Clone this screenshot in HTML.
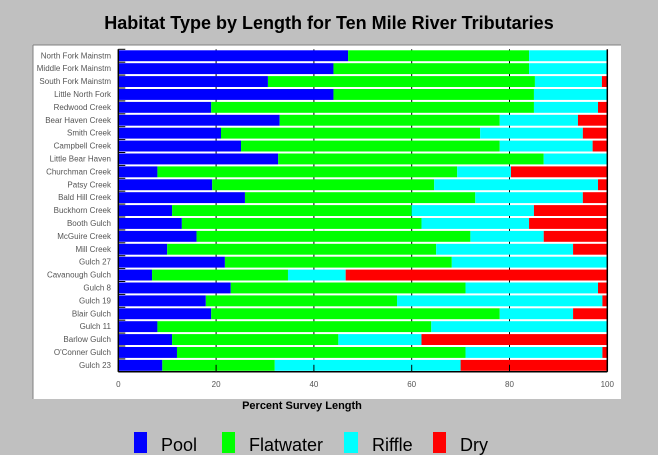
<!DOCTYPE html>
<html><head><meta charset="utf-8"><style>
body{margin:0;background:#c0c0c0;}
svg{display:block;font-family:"Liberation Sans",Arial,sans-serif;}
</style></head><body>
<svg width="658" height="455" viewBox="0 0 658 455">
<rect x="0" y="0" width="658" height="455" fill="#c0c0c0"/>
<text x="329" y="29" text-anchor="middle" font-size="18" font-weight="bold" fill="#000">Habitat Type by Length for Ten Mile River Tributaries</text>
<rect x="33" y="45" width="588" height="354" fill="#fff"/>
<line x1="33" y1="45" x2="621" y2="45" stroke="#808080"/>
<line x1="33" y1="45" x2="33" y2="399" stroke="#808080"/>
<g id="grid"></g>
<g id="bars"></g>
<g id="axes"></g>
<text x="302" y="409" text-anchor="middle" font-size="11" font-weight="bold" fill="#000">Percent Survey Length</text>
<g>
<rect x="134" y="432" width="13" height="21" fill="#0000ff"/>
<text x="161" y="451" font-size="18" fill="#000">Pool</text>
<rect x="222" y="432" width="13" height="21" fill="#00ff00"/>
<text x="249" y="451" font-size="18" fill="#000">Flatwater</text>
<rect x="344" y="432" width="14" height="21" fill="#00ffff"/>
<text x="372" y="451" font-size="18" fill="#000">Riffle</text>
<rect x="433" y="432" width="13" height="21" fill="#ff0000"/>
<text x="460" y="451" font-size="18" fill="#000">Dry</text>
</g>
</svg>
<script>
const categories=["North Fork Mainstm","Middle Fork Mainstm","South Fork Mainstm","Little North Fork","Redwood Creek","Bear Haven Creek","Smith Creek","Campbell Creek","Little Bear Haven","Churchman Creek","Patsy Creek","Bald Hill Creek","Buckhorn Creek","Booth Gulch","McGuire Creek","Mill Creek","Gulch 27","Cavanough Gulch","Gulch 8","Gulch 19","Blair Gulch","Gulch 11","Barlow Gulch","O'Conner Gulch","Gulch 23"];
const pool=[47,44,30.6,44,19,33,21,25.1,32.7,8,19.2,25.9,11,13,16,10,21.8,6.9,23,17.9,19,8,11,12,9];
const flatwater=[37,40,54.6,41,66,45,53,52.9,54.3,61.3,45.4,47.1,49,49,56,55,46.4,27.8,48,39.1,59,56,34,59,23];
const riffle=[16,16,13.7,15,13.1,16,21,19,13,11,33.5,22,25,22,15,28,31.8,11.8,27.1,42,15,36,17,28,38];
const dry=[0,0,1.1,0,1.9,6,5,3,0,19.7,1.9,5,15,16,13,7,0,53.5,1.9,1,7,0,38,1,30];
const xTicks=[0,20,40,60,80,100];
const seriesList=[pool,flatwater,riffle,dry];
const seriesNames=["pool","flatwater","riffle","dry"];
const colors=["#0000ff","#00ff00","#00ffff","#ff0000"];
const NS="http://www.w3.org/2000/svg";
const X0=118.3,X1=607.3,Y0=49.3,PITCH=12.9;
function xs(v){return X0+(X1-X0)*v/100;}
function ys(i){return Y0+i*PITCH;}
const grid=document.getElementById('grid'),bars=document.getElementById('bars'),axes=document.getElementById('axes');
const bottom=ys(categories.length);
xTicks.forEach(t=>{
  if(t>0&&t<100){const l=document.createElementNS(NS,'line');
  l.setAttribute('x1',xs(t));l.setAttribute('x2',xs(t));l.setAttribute('y1',Y0);l.setAttribute('y2',bottom);
  l.setAttribute('stroke','#000');
  
  
  grid.appendChild(l);}
  const tk=document.createElementNS(NS,'line');
  tk.setAttribute('x1',xs(t));tk.setAttribute('x2',xs(t));tk.setAttribute('y1',bottom-7);tk.setAttribute('y2',bottom);
  tk.setAttribute('stroke','#000');
  
  
  axes.appendChild(tk);
  const tx=document.createElementNS(NS,'text');
  tx.setAttribute('x',xs(t));tx.setAttribute('y',bottom+15);tx.setAttribute('text-anchor','middle');
  tx.setAttribute('font-size','8');tx.setAttribute('fill','#555');
  tx.textContent=t;
  
  
  axes.appendChild(tx);
});
categories.forEach((c,i)=>{
  let acc=0;
  seriesList.forEach((s,k)=>{
    const v=s[i];
    if(v>0){const r=document.createElementNS(NS,'rect');
    r.setAttribute('x',xs(acc));r.setAttribute('width',xs(acc+v)-xs(acc));
    r.setAttribute('y',ys(i)+1);r.setAttribute('height',PITCH-2);
    r.setAttribute('fill',colors[k]);
    
    
    bars.appendChild(r);}
    acc+=v;
  });
  const lb=document.createElementNS(NS,'text');
  lb.setAttribute('x',111);lb.setAttribute('y',ys(i)+9);lb.setAttribute('text-anchor','end');
  lb.setAttribute('font-size','8');lb.setAttribute('fill','#555');
  lb.textContent=c;
  
  
  axes.appendChild(lb);
  const tk=document.createElementNS(NS,'line');
  tk.setAttribute('x1',X0);tk.setAttribute('x2',X0+7);tk.setAttribute('y1',ys(i));tk.setAttribute('y2',ys(i));
  tk.setAttribute('stroke','#000');
  
  
  axes.appendChild(tk);
});
[[X0,Y0,X0,bottom,'y-axis-line'],[X0,bottom,X1,bottom,'x-axis-line'],[X1,Y0,X1,bottom,'right-axis-line']].forEach(a=>{
  const l=document.createElementNS(NS,'line');
  l.setAttribute('x1',a[0]);l.setAttribute('y1',a[1]);l.setAttribute('x2',a[2]);l.setAttribute('y2',a[3]);
  l.setAttribute('stroke','#000');l.setAttribute('stroke-width','1.5');
  
  
  axes.appendChild(l);
});
</script>
</body></html>
